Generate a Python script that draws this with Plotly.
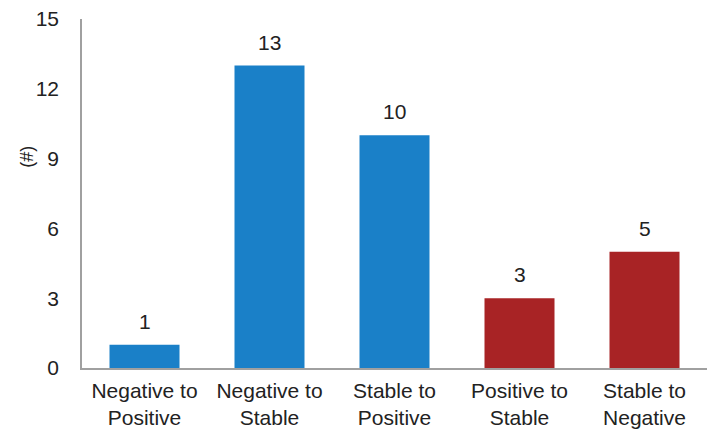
import plotly.graph_objects as go

categories = ["Negative to<br>Positive", "Negative to<br>Stable", "Stable to<br>Positive",
              "Positive to<br>Stable", "Stable to<br>Negative"]
counts = [1, 13, 10, 3, 5]
bar_colors = ["#1a80c8", "#1a80c8", "#1a80c8", "#a82325", "#a82325"]
y_ticks = [0, 3, 6, 9, 12, 15]

fig = go.Figure(go.Bar(
    x=categories,
    y=counts,
    marker=dict(color=bar_colors, line=dict(width=0)),
    cliponaxis=False,
))

# value labels above each bar
for cat, val in zip(categories, counts):
    fig.add_annotation(
        x=cat, y=val, text=str(val), showarrow=False,
        yanchor="bottom", yshift=10, font=dict(size=21, color="#222222"),
    )

fig.update_layout(
    width=710, height=429,
    margin=dict(l=82, r=3, t=19, b=61),
    paper_bgcolor="white", plot_bgcolor="white",
    font=dict(family="Liberation Sans, Arial, sans-serif", size=21, color="#222222"),
    bargap=0.44,
    showlegend=False,
    xaxis=dict(
        showline=True, linecolor="#a0a0a0", linewidth=1.5,
        ticks="", showgrid=False, tickfont=dict(size=21),
        ticklabelstandoff=3, automargin=False,
    ),
    yaxis=dict(
        range=[0, 15], tickvals=y_ticks, showgrid=False,
        showline=True, linecolor="#a0a0a0", linewidth=1.5,
        ticks="", ticklabelstandoff=17, tickfont=dict(size=21),
        zeroline=False, automargin=False,
    ),
)
fig.add_annotation(
    text="(#)", xref="paper", yref="paper", x=-0.088, y=0.605,
    showarrow=False, textangle=-90, font=dict(size=18),
    xanchor="center", yanchor="middle",
)

fig.write_html("out.html")
